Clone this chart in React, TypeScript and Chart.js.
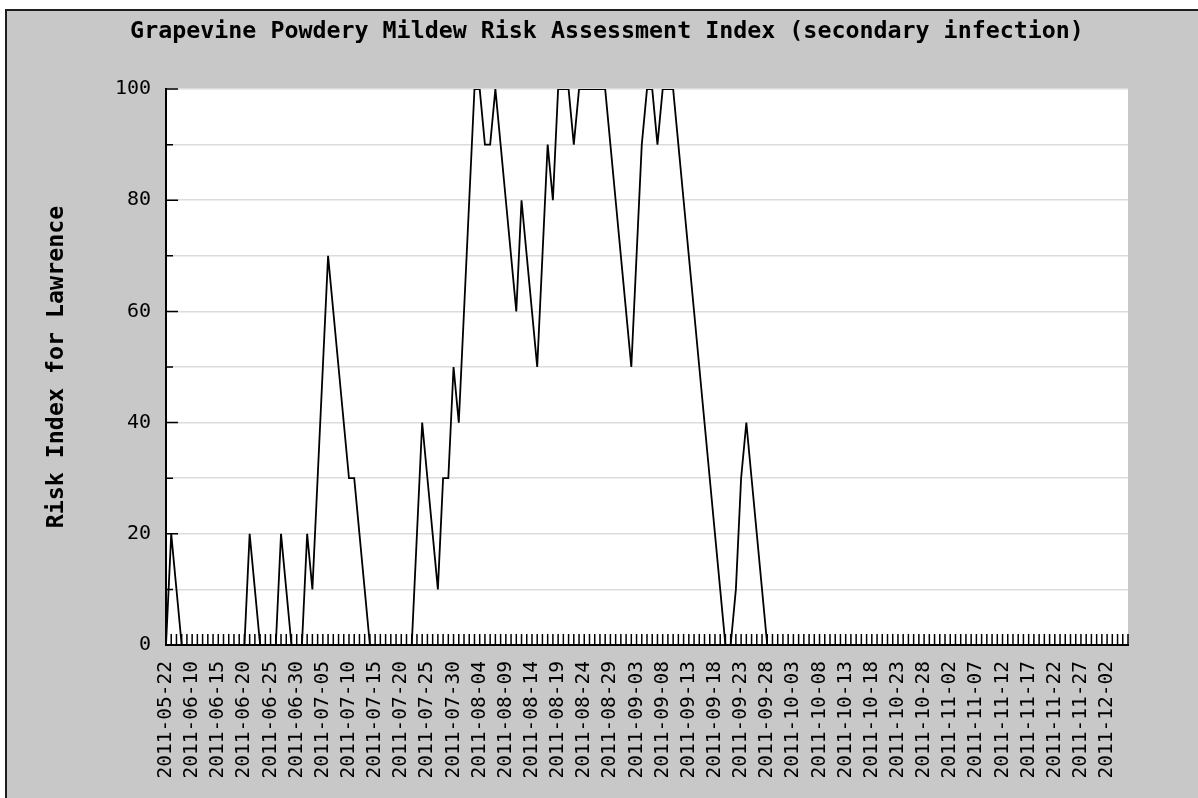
import React, { useEffect, useRef } from 'react';
import { Chart, registerables } from 'chart.js';

Chart.register(...registerables);

const TITLE = 'Grapevine Powdery Mildew Risk Assessment Index (secondary infection)';
const Y_TITLE = 'Risk Index for Lawrence';

const DATES: string[] = [
  '2011-05-22',
  '2011-06-06', '2011-06-07', '2011-06-08', '2011-06-09', '2011-06-10', '2011-06-11', '2011-06-12', '2011-06-13',
  '2011-06-14', '2011-06-15', '2011-06-16', '2011-06-17', '2011-06-18', '2011-06-19', '2011-06-20', '2011-06-21',
  '2011-06-22', '2011-06-23', '2011-06-24', '2011-06-25', '2011-06-26', '2011-06-27', '2011-06-28', '2011-06-29',
  '2011-06-30',
  '2011-07-01', '2011-07-02', '2011-07-03', '2011-07-04', '2011-07-05', '2011-07-06', '2011-07-07', '2011-07-08',
  '2011-07-09', '2011-07-10', '2011-07-11', '2011-07-12', '2011-07-13', '2011-07-14', '2011-07-15', '2011-07-16',
  '2011-07-17', '2011-07-18', '2011-07-19', '2011-07-20', '2011-07-21', '2011-07-22', '2011-07-23', '2011-07-24',
  '2011-07-25', '2011-07-26', '2011-07-27', '2011-07-28', '2011-07-29', '2011-07-30', '2011-07-31',
  '2011-08-01', '2011-08-02', '2011-08-03', '2011-08-04', '2011-08-05', '2011-08-06', '2011-08-07', '2011-08-08',
  '2011-08-09', '2011-08-10', '2011-08-11', '2011-08-12', '2011-08-13', '2011-08-14', '2011-08-15', '2011-08-16',
  '2011-08-17', '2011-08-18', '2011-08-19', '2011-08-20', '2011-08-21', '2011-08-22', '2011-08-23', '2011-08-24',
  '2011-08-25', '2011-08-26', '2011-08-27', '2011-08-28', '2011-08-29', '2011-08-30', '2011-08-31',
  '2011-09-01', '2011-09-02', '2011-09-03', '2011-09-04', '2011-09-05', '2011-09-06', '2011-09-07', '2011-09-08',
  '2011-09-09', '2011-09-10', '2011-09-11', '2011-09-12', '2011-09-13', '2011-09-14', '2011-09-15', '2011-09-16',
  '2011-09-17', '2011-09-18', '2011-09-19', '2011-09-20', '2011-09-21', '2011-09-22', '2011-09-23', '2011-09-24',
  '2011-09-25', '2011-09-26', '2011-09-27', '2011-09-28', '2011-09-29', '2011-09-30',
  '2011-10-01', '2011-10-02', '2011-10-03', '2011-10-04', '2011-10-05', '2011-10-06', '2011-10-07', '2011-10-08',
  '2011-10-09', '2011-10-10', '2011-10-11', '2011-10-12', '2011-10-13', '2011-10-14', '2011-10-15', '2011-10-16',
  '2011-10-17', '2011-10-18', '2011-10-19', '2011-10-20', '2011-10-21', '2011-10-22', '2011-10-23', '2011-10-24',
  '2011-10-25', '2011-10-26', '2011-10-27', '2011-10-28', '2011-10-29', '2011-10-30', '2011-10-31',
  '2011-11-01', '2011-11-02', '2011-11-03', '2011-11-04', '2011-11-05', '2011-11-06', '2011-11-07', '2011-11-08',
  '2011-11-09', '2011-11-10', '2011-11-11', '2011-11-12', '2011-11-13', '2011-11-14', '2011-11-15', '2011-11-16',
  '2011-11-17', '2011-11-18', '2011-11-19', '2011-11-20', '2011-11-21', '2011-11-22', '2011-11-23', '2011-11-24',
  '2011-11-25', '2011-11-26', '2011-11-27', '2011-11-28', '2011-11-29', '2011-11-30',
  '2011-12-01', '2011-12-02', '2011-12-03', '2011-12-04', '2011-12-05', '2011-12-06',
];

const RISK: number[] = [
  0, 20, 10, 0, 0, 0, 0, 0, 0, 0,
  0, 0, 0, 0, 0, 0, 20, 10, 0, 0,
  0, 0, 20, 10, 0, 0, 0, 20, 10, 30,
  50, 70, 60, 50, 40, 30, 30, 20, 10, 0,
  0, 0, 0, 0, 0, 0, 0, 0, 20, 40,
  30, 20, 10, 30, 30, 50, 40, 60, 80, 100,
  100, 90, 90, 100, 90, 80, 70, 60, 80, 70,
  60, 50, 70, 90, 80, 100, 100, 100, 90, 100,
  100, 100, 100, 100, 100, 90, 80, 70, 60, 50,
  70, 90, 100, 100, 90, 100, 100, 100, 90, 80,
  70, 60, 50, 40, 30, 20, 10, 0, 0, 10,
  30, 40, 30, 20, 10, 0, 0, 0, 0, 0,
  0, 0, 0, 0, 0, 0, 0, 0, 0, 0,
  0, 0, 0, 0, 0, 0, 0, 0, 0, 0,
  0, 0, 0, 0, 0, 0, 0, 0, 0, 0,
  0, 0, 0, 0, 0, 0, 0, 0, 0, 0,
  0, 0, 0, 0, 0, 0, 0, 0, 0, 0,
  0, 0, 0, 0, 0, 0, 0, 0, 0, 0,
  0, 0, 0, 0, 0,
];

const Y_MIN = 0;
const Y_MAX = 100;
const Y_STEP = 10;
const Y_LABEL_STEP = 20;
const X_LABEL_EVERY = 5;

const MONO = '"DejaVu Sans Mono", "Liberation Mono", monospace';

const plotBg = {
  id: 'plotBg',
  beforeDraw(chart: any) {
    const { ctx, chartArea: a } = chart;
    ctx.save();
    ctx.fillStyle = '#ffffff';
    ctx.fillRect(a.left, a.top, a.right - a.left, a.bottom - a.top);
    ctx.restore();
  },
};

const innerTicks = {
  id: 'innerTicks',
  afterDatasetsDraw(chart: any) {
    const { ctx, chartArea: a, scales } = chart;
    const xs = scales.x;
    const ys = scales.y;
    ctx.save();
    ctx.strokeStyle = '#000';
    ctx.lineWidth = 1.5;
    ctx.beginPath();
    for (let i = 0; i < DATES.length; i++) {
      const x = xs.getPixelForValue(i);
      ctx.moveTo(x, a.bottom);
      ctx.lineTo(x, a.bottom - 11);
    }
    ys.ticks.forEach((t: any) => {
      const y = ys.getPixelForValue(t.value);
      const len = t.value % Y_LABEL_STEP === 0 ? 12 : 7;
      ctx.moveTo(a.left, y);
      ctx.lineTo(a.left + len, y);
    });
    ctx.stroke();
    ctx.restore();
  },
};

export default function App() {
  const ref = useRef<HTMLCanvasElement | null>(null);

  useEffect(() => {
    if (!ref.current) return;
    const chart = new Chart(ref.current, {
      type: 'line',
      data: {
        labels: DATES,
        datasets: [
          {
            data: RISK,
            borderColor: '#000000',
            borderWidth: 1.8,
            pointRadius: 0,
            tension: 0,
            fill: false,
            yAxisID: 'y',
          },
        ],
      },
      options: {
        responsive: false,
        animation: false,
        layout: { padding: { left: 16, right: 0, top: 0, bottom: 0 } },
        plugins: {
          legend: { display: false },
          tooltip: { enabled: false },
          title: {
            display: true,
            text: TITLE,
            color: '#000',
            font: { family: MONO, size: 23.3, weight: 'bold', lineHeight: 1.2 },
            padding: { top: 17.5, bottom: 43.6 },
          },
        },
        scales: {
          x: {
            type: 'category',
            offset: false,
            grid: { display: true, drawOnChartArea: false, drawTicks: false },
            border: { display: true, color: '#000', width: 2 },
            ticks: {
              autoSkip: false,
              maxRotation: 90,
              minRotation: 90,
              padding: 16,
              color: '#000',
              font: { family: MONO, size: 19.5 },
              callback: (_v: any, i: number) => (i % X_LABEL_EVERY === 0 ? DATES[i] : ''),
            },
            afterFit: (s: any) => {
              s.height = 153;
            },
          },
          y: {
            type: 'linear',
            position: 'left',
            min: Y_MIN,
            max: Y_MAX,
            grid: { color: '#dcdcdc', lineWidth: 1.5, drawTicks: false },
            border: { display: true, color: '#000', width: 2 },
            ticks: {
              stepSize: Y_STEP,
              padding: 15,
              color: '#000',
              font: { family: MONO, size: 20 },
              callback: (v: any) => (Number(v) % Y_LABEL_STEP === 0 ? String(v) : ''),
            },
            title: {
              display: true,
              text: Y_TITLE,
              color: '#000',
              font: { family: MONO, size: 23.3, weight: 'bold', lineHeight: 1.2 },
              padding: { top: 27, bottom: 0 },
            },
            afterFit: (s: any) => {
              s.width = 150;
            },
          },
          yPad: {
            type: 'linear',
            position: 'right',
            display: true,
            grid: { display: false, drawTicks: false },
            border: { display: false },
            ticks: { display: false },
            afterFit: (s: any) => {
              s.width = 70;
            },
          },
        },
      } as any,
      plugins: [plotBg, innerTicks],
    });
    return () => chart.destroy();
  }, []);

  return (
    <div
      style={{
        position: 'fixed',
        left: 0,
        top: 0,
        width: 1198,
        height: 798,
        background: '#ffffff',
        overflow: 'hidden',
      }}
    >
      <div
        style={{
          position: 'absolute',
          left: 5,
          top: 9,
          width: 1210,
          height: 800,
          background: '#c8c8c8',
          borderTop: '2px solid #1e1e1e',
          borderLeft: '2px solid #1e1e1e',
        }}
      />
      <canvas
        ref={ref}
        width={1198}
        height={798}
        style={{ position: 'absolute', left: 0, top: 0, width: 1198, height: 798 }}
      />
    </div>
  );
}
